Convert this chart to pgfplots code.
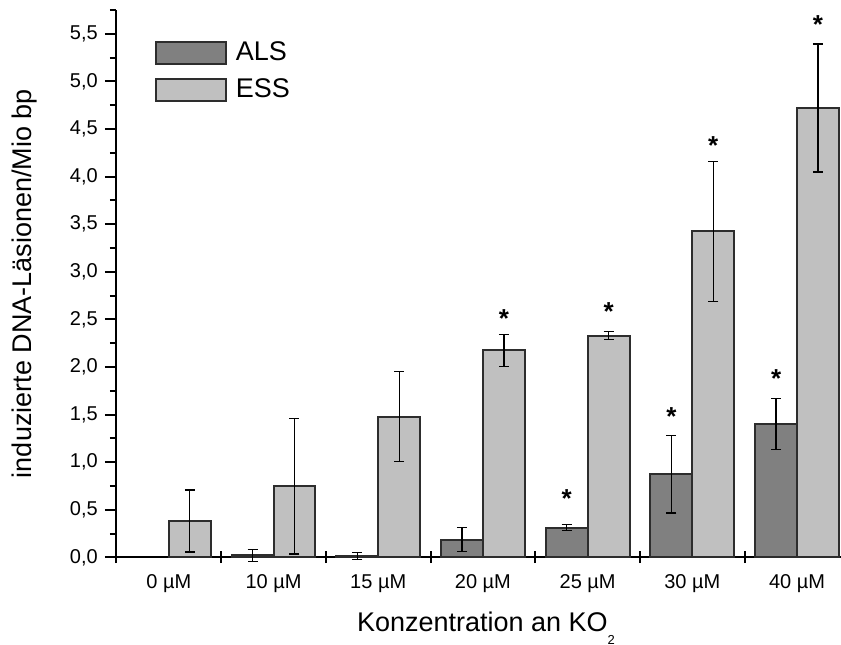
\documentclass[border=0pt]{standalone}
\usepackage{fontspec}
\setmainfont{Liberation Sans}
\usepackage{pgfplots}
\usepackage{pgfplotstable}
\pgfplotsset{compat=1.18}
\definecolor{alsfill}{RGB}{128,128,128}
\definecolor{essfill}{RGB}{192,192,192}
\definecolor{edge}{RGB}{45,45,45}
\newcommand\tickfont{\fontsize{10}{12}\selectfont}
\newcommand\labelfont{\fontsize{13.5}{16}\selectfont}
\newcommand\starfont{\fontsize{13}{15}\selectfont\bfseries}

\pgfplotstableread{
x y err
0.8 0.020 0.065
1.8 0.015 0.035
2.8 0.185 0.125
3.8 0.311 0.033
4.8 0.873 0.408
5.8 1.402 0.270
}\alsdata
\pgfplotstableread{
x y err
0.2 0.382 0.325
1.2 0.746 0.710
2.2 1.479 0.470
3.2 2.173 0.170
4.2 2.330 0.044
5.2 3.424 0.737
6.2 4.721 0.673
}\essdata
\pgfplotstableread{
x y
3.2 2.566
3.8 0.683
4.2 2.640
4.8 1.538
5.2 4.390
5.8 1.935
6.2 5.660
}\stardata

\begin{document}
\begin{tikzpicture}
\begin{axis}[
  at={(0,0)}, anchor=south west,
  scale only axis, width=362.25pt, height=273.65pt,
  xmin=-0.5, xmax=6.42, ymin=0, ymax=5.75,
  clip=false,
  axis x line*=bottom, axis y line*=left,
  axis line style={-, line width=1pt, black},
  xtick={-0.5,0.5,1.5,2.5,3.5,4.5,5.5},
  xticklabels={0 µM,10 µM,15 µM,20 µM,25 µM,30 µM,40 µM},
  xticklabel style={font=\tickfont, anchor=base, xshift=26.175pt, yshift=-9.65pt},
  every major x tick/.append style={yshift=2.925pt},
  ytick={0,0.5,1,1.5,2,2.5,3,3.5,4,4.5,5,5.5},
  minor ytick={0.25,0.75,1.25,1.75,2.25,2.75,3.25,3.75,4.25,4.75,5.25,5.75},
  tick align=outside,
  major tick length=5.85pt, minor tick length=3.35pt,
  tick style={line width=1pt, black},
  yticklabel style={font=\tickfont, /pgf/number format/.cd, use comma, fixed, fixed zerofill, precision=1, assume math mode=true},
  xlabel={Konzentration an KO\raisebox{-6.5pt}{\fontsize{6.5}{7}\selectfont 2}},
  every axis x label/.style={at={(axis description cs:0.51001,-0.13466)}, anchor=base, font=\labelfont},
  ylabel={induzierte DNA-Läsionen/Mio bp},
  every axis y label/.style={at={(axis description cs:-0.1263,0.5)}, rotate=90, anchor=center, font=\labelfont},
  legend image code/.code={\draw[#1, line width=1pt] (0pt,-5.5pt) rectangle (35pt,5.5pt);},
  legend style={draw=none, fill=none, inner sep=0pt, outer sep=0pt, row sep=6.5pt,
    at={(axis description cs:0.0531,0.9434)}, anchor=north west,
    nodes={inner sep=0pt, font=\labelfont},
    /tikz/every odd column/.append style={column sep=4.5pt}},
  legend cell align=left,
]
\addplot[ybar, bar width=0.4, bar shift=0pt, fill=alsfill, draw=edge, line width=1pt,
  error bars/.cd, y dir=both, y explicit,
  error bar style={line width=0.65pt, black},
  error mark options={rotate=90, mark size=2.5pt, line width=0.65pt, black}]
  table[x=x, y=y, y error=err] {\alsdata};
\addlegendentry{ALS}
\addplot[ybar, bar width=0.4, bar shift=0pt, fill=essfill, draw=edge, line width=1pt,
  error bars/.cd, y dir=both, y explicit,
  error bar style={line width=0.65pt, black},
  error mark options={rotate=90, mark size=2.5pt, line width=0.65pt, black}]
  table[x=x, y=y, y error=err] {\essdata};
\addlegendentry{ESS}
\addplot[forget plot, only marks, mark=*, mark size=0pt, mark options={draw=none, fill=none},
  nodes near coords={*}, nodes near coords align={center},
  every node near coord/.append style={font=\starfont, inner sep=0pt, yshift=-2.9pt}]
  table[x=x, y=y] {\stardata};
\end{axis}
\pgfresetboundingbox
\path[use as bounding box] (-58.25pt,-43.35pt) rectangle (362.25pt,278.65pt);
\end{tikzpicture}
\end{document}
